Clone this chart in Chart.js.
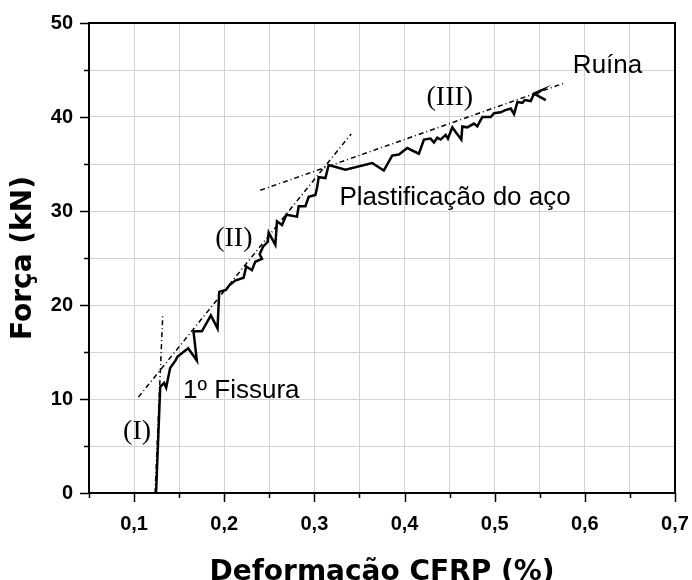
<!DOCTYPE html>
<html>
<head>
<meta charset="utf-8">
<script src="https://cdn.jsdelivr.net/npm/chart.js@4"></script>
<style>
  body { margin: 0; background: #fff; }
  canvas { display: block; }
</style>
</head>
<body>
<canvas id="mygraph" width="692" height="580"></canvas>
<script>
// curva força x deformação
const strain = [0.1244, 0.1290, 0.1333, 0.1356, 0.1400, 0.1460, 0.1480, 0.1600, 0.1696, 0.1659,
  0.1752, 0.1852, 0.1926, 0.1944, 0.2019, 0.2056, 0.2122, 0.2215, 0.2244, 0.2307,
  0.2344, 0.2419, 0.2393, 0.2430, 0.2481, 0.2493, 0.2567, 0.2585, 0.2641, 0.2689,
  0.2807, 0.2826, 0.2900, 0.2937, 0.3011, 0.3030, 0.3048, 0.3122, 0.3159, 0.3344,
  0.3641, 0.3770, 0.3863, 0.3937, 0.4030, 0.4159, 0.4215, 0.4289, 0.4326, 0.4363,
  0.4400, 0.4456, 0.4481, 0.4530, 0.4567, 0.4630, 0.4641, 0.4696, 0.4770, 0.4807,
  0.4863, 0.4956, 0.4993, 0.5067, 0.5111, 0.5178, 0.5215, 0.5252, 0.5308, 0.5333,
  0.5400, 0.5437, 0.5510, 0.5450, 0.5567];
const force = [0, 11.3, 11.7, 11.2, 13.3, 14.1, 14.5, 15.4, 14.1, 17.2,
  17.2, 18.9, 17.5, 21.4, 21.6, 22.1, 22.6, 22.9, 24.1, 23.7,
  24.6, 24.9, 25.4, 26.2, 26.7, 27.7, 26.4, 28.9, 28.5, 29.6,
  29.4, 30.5, 30.5, 31.5, 31.7, 32.5, 33.6, 33.5, 34.9, 34.4,
  35.1, 34.3, 35.9, 36.0, 36.7, 36.1, 37.6, 37.7, 37.3, 37.8,
  37.6, 38.1, 37.7, 38.9, 38.4, 37.6, 39.0, 38.9, 39.3, 39.0,
  40.0, 40.0, 40.4, 40.5, 40.7, 40.9, 40.3, 41.6, 41.5, 41.8,
  41.7, 42.5, 42.8, 42.4, 41.8];

// retas tangentes (I), (II), (III)
const tanIStrain = [0.1233, 0.1319];
const tanIForce = [0, 19.1];
const tanIIStrain = [0.1048, 0.3408];
const tanIIForce = [10.2, 38.2];
const tanIIIStrain = [0.24, 0.577];
const tanIIIForce = [32.2, 43.6];

// eixos
const xTickValues = [0.05, 0.1, 0.15, 0.2, 0.25, 0.3, 0.35, 0.4, 0.45, 0.5, 0.55, 0.6, 0.65, 0.7];
const xTickLabels = ['', '0,1', '', '0,2', '', '0,3', '', '0,4', '', '0,5', '', '0,6', '', '0,7'];
const yTickValues = [0, 5, 10, 15, 20, 25, 30, 35, 40, 45, 50];
const yTickLabels = ['0', '', '10', '', '20', '', '30', '', '40', '', '50'];

// textos no gráfico
const notes = [
  { text: 'Ruína', x: 0.5867, y: 44.7, serif: false },
  { text: 'Plastificação do aço', x: 0.3278, y: 30.6, serif: false },
  { text: '1º Fissura', x: 0.1544, y: 10.1, serif: false },
  { text: '(I)', x: 0.0878, y: 5.7, serif: true },
  { text: '(II)', x: 0.19, y: 26.3, serif: true },
  { text: '(III)', x: 0.4244, y: 41.3, serif: true }
];

const toPoints = (xs, ys) => xs.map((x, i) => ({ x: x, y: ys[i] }));

const tangentStyle = {
  showLine: true,
  borderColor: '#000',
  borderWidth: 1.5,
  borderDash: [5, 3, 1, 3],
  pointRadius: 0,
  fill: false
};

const framePlugin = {
  id: 'frame',
  afterDatasetsDraw(chart) {
    const { ctx, chartArea: a, scales } = chart;
    ctx.save();
    ctx.strokeStyle = '#000';
    ctx.lineWidth = 1.5;
    // traços dos ticks
    ctx.beginPath();
    scales.x.ticks.forEach((t, i) => {
      const px = Math.round(scales.x.getPixelForValue(t.value)) + 0.5;
      const len = xTickLabels[i] ? 9 : 5;
      ctx.moveTo(px, a.bottom);
      ctx.lineTo(px, a.bottom + len);
    });
    scales.y.ticks.forEach((t, i) => {
      const py = Math.round(scales.y.getPixelForValue(t.value)) + 0.5;
      const len = yTickLabels[i] ? 9 : 5;
      ctx.moveTo(a.left, py);
      ctx.lineTo(a.left - len, py);
    });
    ctx.stroke();
    ctx.lineWidth = 2;
    ctx.strokeRect(a.left, a.top, a.right - a.left, a.bottom - a.top);

    ctx.fillStyle = '#000';
    ctx.textAlign = 'left';
    ctx.textBaseline = 'alphabetic';
    notes.forEach(n => {
      ctx.font = n.serif ? '28px "Liberation Serif"' : '26px "Liberation Sans"';
      ctx.fillText(n.text, scales.x.getPixelForValue(n.x), scales.y.getPixelForValue(n.y));
    });
    ctx.restore();
  }
};

const data = {
  datasets: [
    {
      label: 'curva',
      data: toPoints(strain, force),
      showLine: true,
      borderColor: '#000',
      borderWidth: 2.5,
      pointRadius: 0,
      fill: false
    },
    Object.assign({ label: 'I', data: toPoints(tanIStrain, tanIForce) }, tangentStyle),
    Object.assign({ label: 'II', data: toPoints(tanIIStrain, tanIIForce) }, tangentStyle),
    Object.assign({ label: 'III', data: toPoints(tanIIIStrain, tanIIIForce) }, tangentStyle)
  ]
};

const config = {
  type: 'scatter',
  data,
  plugins: [framePlugin],
  options: {
    responsive: false,
    animation: false,
    layout: { padding: { top: 23, right: 17, left: 0, bottom: 0 } },
    plugins: { legend: { display: false }, tooltip: { enabled: false } },
    scales: {
      x: {
        type: 'linear',
        min: 0.05,
        max: 0.7,
        afterBuildTicks: s => { s.ticks = xTickValues.map(v => ({ value: v })); },
        afterFit: s => { s.height = 87; s.paddingLeft = 0; s.paddingRight = 0; },
        grid: { color: '#d2d2d2', lineWidth: 1, drawTicks: false },
        border: { display: false },
        ticks: {
          padding: 19,
          color: '#000',
          autoSkip: false,
          maxRotation: 0,
          font: { family: 'Liberation Sans', size: 20, weight: 'bold' },
          callback: (v, i) => xTickLabels[i]
        },
        title: {
          display: true,
          text: 'Deformação CFRP (%)',
          color: '#000',
          font: { family: 'DejaVu Sans', size: 28, weight: 'bold', lineHeight: 1 },
          padding: { top: 0, bottom: -7 }
        }
      },
      y: {
        type: 'linear',
        min: 0,
        max: 50,
        afterBuildTicks: s => { s.ticks = yTickValues.map(v => ({ value: v })); },
        afterFit: s => { s.width = 89; s.paddingTop = 0; s.paddingBottom = 0; },
        grid: { color: '#d2d2d2', lineWidth: 1, drawTicks: false },
        border: { display: false },
        ticks: {
          padding: 16,
          color: '#000',
          autoSkip: false,
          font: { family: 'Liberation Sans', size: 20, weight: 'bold' },
          callback: (v, i) => yTickLabels[i]
        },
        title: {
          display: true,
          text: 'Força (kN)',
          color: '#000',
          font: { family: 'DejaVu Sans', size: 28, weight: 'bold', lineHeight: 1 },
          padding: { top: 10, bottom: 0 }
        }
      }
    }
  }
};

const mygraph = new Chart(document.getElementById('mygraph'), config);
</script>
</body>
</html>
